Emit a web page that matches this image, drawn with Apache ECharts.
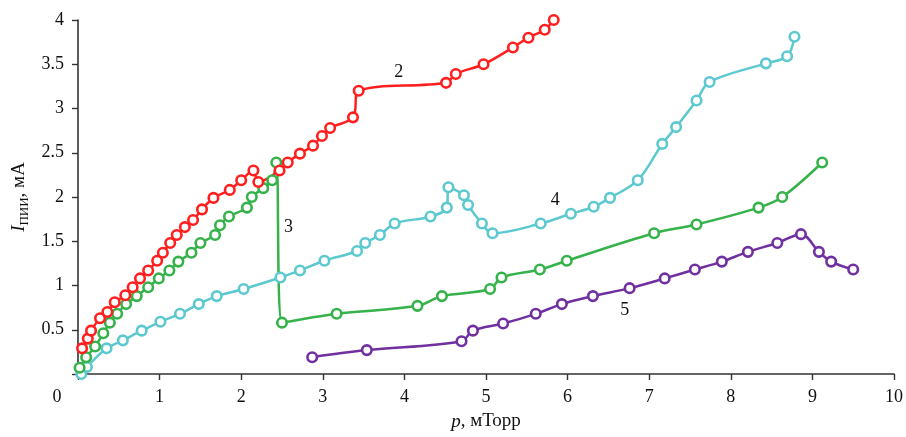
<!DOCTYPE html>
<html><head><meta charset="utf-8">
<script src="https://cdn.jsdelivr.net/npm/echarts@6/dist/echarts.min.js"></script>
<style>html,body{margin:0;padding:0;background:#fff}#c{width:906px;height:437px}</style>
</head><body><div id="c"></div>
<script>
// Series 2 (red)
const x2 = [0.05,0.12,0.16,0.27,0.36,0.45,0.58,0.67,0.76,0.86,0.97,1.04,1.13,1.21,1.31,1.41,1.52,1.66,1.86,2.00,2.15,2.21,2.47,2.57,2.72,2.88,2.99,3.09,3.37,3.44,4.51,4.63,4.97,5.33,5.52,5.72,5.83];
const y2 = [0.29,0.40,0.49,0.63,0.70,0.81,0.89,0.98,1.08,1.17,1.28,1.37,1.48,1.57,1.66,1.74,1.86,1.99,2.08,2.19,2.30,2.17,2.30,2.39,2.49,2.58,2.69,2.78,2.90,3.20,3.29,3.39,3.50,3.69,3.80,3.89,4.00];
// Series 3 (green)
const x3 = [0.02,0.10,0.21,0.31,0.39,0.48,0.59,0.72,0.86,0.99,1.12,1.23,1.39,1.50,1.68,1.74,1.85,2.07,2.13,2.27,2.38,2.43,2.50,3.17,4.16,4.46,5.05,5.19,5.66,5.99,7.06,7.58,8.34,8.63,9.12];
const y3 = [0.07,0.19,0.31,0.46,0.58,0.68,0.79,0.88,0.98,1.08,1.17,1.27,1.37,1.48,1.57,1.68,1.78,1.88,2.00,2.10,2.19,2.39,0.58,0.68,0.77,0.88,0.96,1.09,1.18,1.28,1.59,1.69,1.88,2.00,2.39];
// Series 4 (cyan)
const x4 = [0.04,0.11,0.35,0.55,0.78,1.01,1.25,1.48,1.70,2.03,2.48,2.72,3.02,3.42,3.52,3.70,3.88,4.32,4.52,4.54,4.73,4.78,4.95,5.08,5.67,6.04,6.32,6.52,6.86,7.16,7.33,7.58,7.74,8.43,8.69,8.78];
const y4 = [0.00,0.08,0.29,0.38,0.49,0.59,0.68,0.79,0.88,0.96,1.09,1.17,1.28,1.39,1.48,1.57,1.70,1.78,1.88,2.11,2.02,1.91,1.70,1.59,1.70,1.81,1.89,1.99,2.19,2.60,2.79,3.09,3.30,3.51,3.59,3.81];
// Series 5 (purple)
const x5 = [2.87,3.54,4.70,4.84,5.21,5.61,5.93,6.31,6.76,7.19,7.56,7.89,8.21,8.57,8.86,9.08,9.23,9.50];
const y5 = [0.19,0.27,0.37,0.49,0.57,0.68,0.79,0.88,0.97,1.08,1.18,1.27,1.38,1.48,1.58,1.38,1.27,1.18];
// curve labels [name, x, y]
const curveLabels = [['2',3.93,3.41],['3',2.58,1.66],['4',5.85,1.96],['5',6.70,0.72]];
const xTicks = [0,1,2,3,4,5,6,7,8,9,10];
const yTicks = [0,0.5,1,1.5,2,2.5,3,3.5,4];

const FONT = '"Liberation Serif","Times New Roman",serif';
const zip = (xs, ys) => xs.map((x, i) => [x, ys[i]]);
function mk(name, xs, ys, color, lbl) {
  const s = {
    type: 'line', name, data: zip(xs, ys), smooth: 0.35,
    symbol: 'circle', symbolSize: 9.5,
    itemStyle: {color: '#fff', borderColor: color, borderWidth: 2.6},
    lineStyle: {color: color, width: 2.5},
    emphasis: {disabled: true}, animation: false
  };
  if (lbl) {
    s.markPoint = {
      symbol: 'circle', symbolSize: 1, itemStyle: {color: 'rgba(0,0,0,0)'},
      label: {show: true, formatter: lbl[0], color: '#111', fontFamily: FONT, fontSize: 18, position: 'inside'},
      data: [{coord: [lbl[1], lbl[2]]}]
    };
  }
  return s;
}
const chart = echarts.init(document.getElementById('c'), null, {renderer: 'canvas'});
chart.setOption({
  backgroundColor: '#fff',
  animation: false,
  grid: {left: 78, right: 11, top: 20, bottom: 63},
  xAxis: {
    type: 'value', min: xTicks[0], max: xTicks[xTicks.length-1], interval: 1,
    name: '{i|p}{n|, мТорр}', nameLocation: 'middle', nameGap: 38,
    nameTextStyle: {rich: {i: {fontFamily: FONT, fontStyle: 'italic', fontSize: 19, color: '#111'}, n: {fontFamily: FONT, fontSize: 19, color: '#111'}}},
    axisLine: {lineStyle: {color: '#333', width: 1.6}},
    axisTick: {show: true, inside: false, length: 6, lineStyle: {color: '#333', width: 1.4}},
    axisLabel: {fontFamily: FONT, fontSize: 18, color: '#111', margin: 14,
      formatter: v => v === 0 ? '{z|0}' : String(v),
      rich: {z: {fontFamily: FONT, fontSize: 18, color: '#111', padding: [0, 42, 0, 0]}}},
    splitLine: {show: false}
  },
  yAxis: {
    type: 'value', min: yTicks[0], max: yTicks[yTicks.length-1], interval: 0.5,
    name: '{i|I}{s|ПИИ}{n|, мА}', nameLocation: 'middle', nameGap: 44, nameRotate: 90,
    nameTextStyle: {rich: {
      i: {fontFamily: FONT, fontStyle: 'italic', fontSize: 19, color: '#111'},
      s: {fontFamily: FONT, fontSize: 13, color: '#111', padding: [10, 0, 0, 0]},
      n: {fontFamily: FONT, fontSize: 19, color: '#111'}}},
    axisLine: {show: true, lineStyle: {color: '#333', width: 1.6}},
    axisTick: {show: true, inside: false, length: 6, lineStyle: {color: '#333', width: 1.4}},
    axisLabel: {fontFamily: FONT, fontSize: 18, color: '#111', margin: 14,
      formatter: v => v === 0 ? '' : String(v)},
    splitLine: {show: false}
  },
  series: [
    mk('5', x5, y5, '#7030a0', curveLabels[3]),
    mk('4', x4, y4, '#5cc8cf', curveLabels[2]),
    mk('3', x3, y3, '#35b24a', curveLabels[1]),
    mk('2', x2, y2, '#ff1f1f', curveLabels[0])
  ]
});
</script></body></html>
